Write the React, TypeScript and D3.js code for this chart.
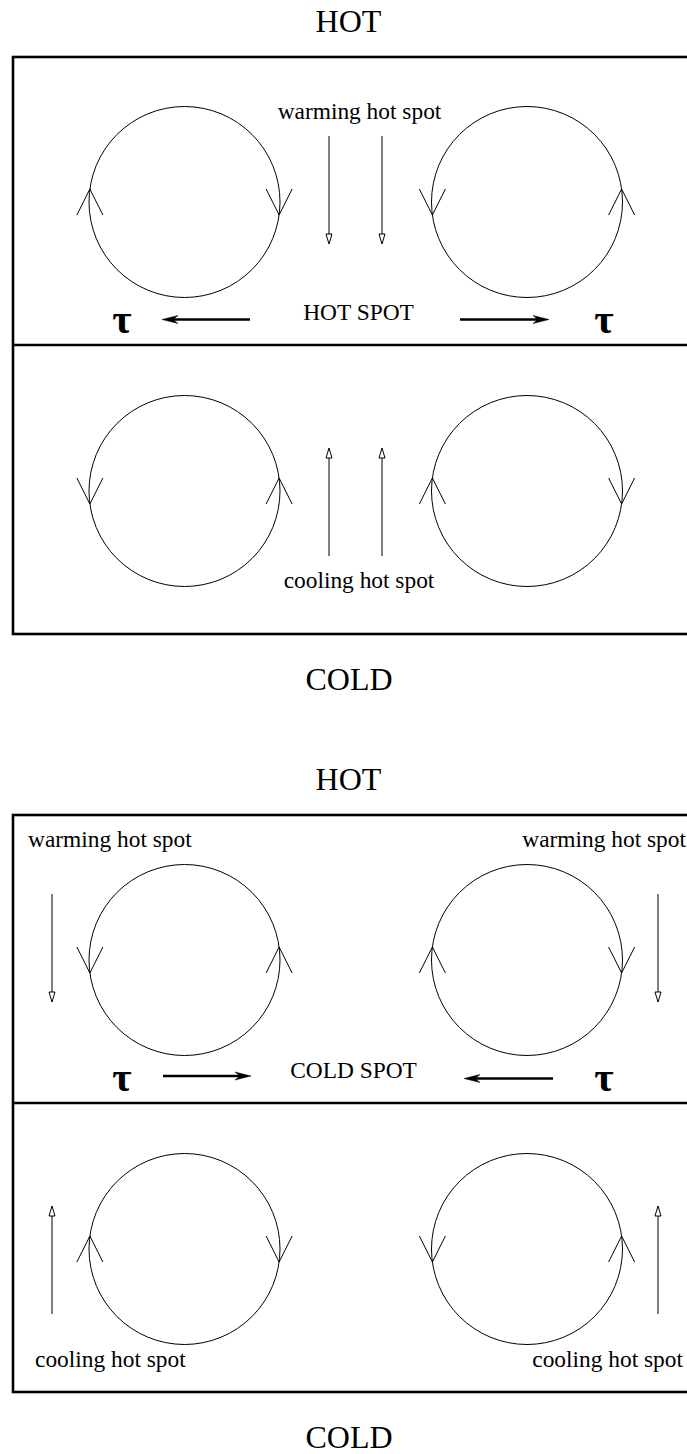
import React from "react";
import * as d3 from "d3";

// ---- diagram content ----
const TOP_TITLES = ["HOT", "HOT"];
const BOTTOM_TITLES = ["COLD", "COLD"];
const SPOT_LABELS = ["HOT SPOT", "COLD SPOT"];
const WARM_LABEL = "warming hot spot";
const COOL_LABEL = "cooling hot spot";
const TAU = "τ";
// rotation of [left, right] circle in [upper, lower] panel of each diagram
const ROTATIONS: string[][][] = [
  [["cw", "ccw"], ["ccw", "cw"]],
  [["ccw", "cw"], ["cw", "ccw"]],
];
// direction of the wind-stress arrows: outward or inward
const STRESS_DIR = ["out", "in"];
// where the vertical heat-flux arrows sit
const FLUX_PLACEMENT = ["center", "sides"];

const W = 687;
const H = 1454;
const OFFSET = 758;

const y = d3.scaleLinear().domain([0, 1]).range([0, OFFSET]);

function Chevron({ x, y: cy, up }: { x: number; y: number; up: boolean }) {
  const a = 13;
  const hw = 13;
  const apexY = up ? cy - a : cy + a;
  const armY = up ? cy + a : cy - a;
  const line = d3.line();
  return (
    <path
      d={line([[x - hw, armY], [x, apexY], [x + hw, armY]]) || ""}
      fill="none"
      stroke="#000"
      strokeWidth={1}
    />
  );
}

function Cell({ cx, cy, rot }: { cx: number; cy: number; rot: string }) {
  const r = 95.5;
  const dx = Math.sqrt(r * r - 13 * 13);
  const cw = rot === "cw";
  return (
    <g>
      <circle cx={cx} cy={cy} r={r} fill="none" stroke="#000" strokeWidth={1} />
      <Chevron x={cx - dx} y={cy} up={cw} />
      <Chevron x={cx + dx} y={cy} up={!cw} />
    </g>
  );
}

function FluxArrow({ x, y0, y1 }: { x: number; y0: number; y1: number }) {
  const dir = y1 > y0 ? 1 : -1;
  const hl = 10;
  const hw = 3;
  const line = d3.line();
  return (
    <g>
      <line x1={x} y1={y0} x2={x} y2={y1 - dir * hl} stroke="#000" strokeWidth={1} />
      <path
        d={(line([[x - hw, y1 - dir * hl], [x + hw, y1 - dir * hl], [x, y1]]) || "") + "Z"}
        fill="#fff"
        stroke="#000"
        strokeWidth={1}
      />
    </g>
  );
}

function StressArrow({ x0, x1, yy }: { x0: number; x1: number; yy: number }) {
  const dir = x1 > x0 ? 1 : -1;
  const hl = 16;
  const hw = 4;
  const line = d3.line();
  const head = line([
    [x1, yy],
    [x1 - dir * hl, yy - hw],
    [x1 - dir * (hl - 5), yy],
    [x1 - dir * hl, yy + hw],
  ]);
  return (
    <g>
      <line x1={x0} y1={yy} x2={x1 - dir * 8} y2={yy} stroke="#000" strokeWidth={2.6} />
      <path d={(head || "") + "Z"} fill="#000" stroke="#000" strokeWidth={0.5} />
    </g>
  );
}

function Diagram({ i }: { i: number }) {
  const oy = y(i);
  const top = 57 + oy;
  const mid = 345 + oy;
  const bot = 634 + oy;
  const cyU = 202 + oy;
  const cyL = 491 + oy;
  const cxs = [184.5, 527];
  const font = "'Liberation Serif', 'Times New Roman', serif";
  const stressY = 319.5 + oy;
  const out = STRESS_DIR[i] === "out";
  const flux = FLUX_PLACEMENT[i];
  const fluxXs = flux === "center" ? [329, 382] : [52, 658];
  return (
    <g>
      <text x={348.5} y={32 + oy} textAnchor="middle" fontFamily={font} fontSize={32}>
        {TOP_TITLES[i]}
      </text>
      <text x={349} y={690 + oy} textAnchor="middle" fontFamily={font} fontSize={32}>
        {BOTTOM_TITLES[i]}
      </text>
      <rect x={13} y={top} width={700} height={bot - top} fill="none" stroke="#000" strokeWidth={2.6} />
      <line x1={13} y1={mid} x2={W + 5} y2={mid} stroke="#000" strokeWidth={2.6} />

      {cxs.map((cx, k) => (
        <Cell key={"u" + k} cx={cx} cy={cyU} rot={ROTATIONS[i][0][k]} />
      ))}
      {cxs.map((cx, k) => (
        <Cell key={"l" + k} cx={cx} cy={cyL} rot={ROTATIONS[i][1][k]} />
      ))}

      {fluxXs.map((fx, k) => (
        <FluxArrow key={"fd" + k} x={fx} y0={136 + oy} y1={244 + oy} />
      ))}
      {fluxXs.map((fx, k) => (
        <FluxArrow key={"fu" + k} x={fx} y0={556 + oy} y1={448 + oy} />
      ))}

      {flux === "center" ? (
        <g fontFamily={font} fontSize={23.4}>
          <text x={359.5} y={119 + oy} textAnchor="middle">{WARM_LABEL}</text>
          <text x={359} y={588 + oy} textAnchor="middle">{COOL_LABEL}</text>
        </g>
      ) : (
        <g fontFamily={font} fontSize={23.4}>
          <text x={28} y={847 - OFFSET + oy}>{WARM_LABEL}</text>
          <text x={686} y={847 - OFFSET + oy} textAnchor="end">{WARM_LABEL}</text>
          <text x={35} y={1367 - OFFSET + oy}>{COOL_LABEL}</text>
          <text x={683} y={1367 - OFFSET + oy} textAnchor="end">{COOL_LABEL}</text>
        </g>
      )}

      <text x={i === 0 ? 358.5 : 353.5} y={319.5 + oy} textAnchor="middle" fontFamily={font} fontSize={23.4}>
        {SPOT_LABELS[i]}
      </text>

      <text x={122} y={333 + oy} textAnchor="middle" fontFamily={font} fontSize={42} fontWeight="bold">{TAU}</text>
      <text x={604} y={333 + oy} textAnchor="middle" fontFamily={font} fontSize={42} fontWeight="bold">{TAU}</text>

      {out ? (
        <g>
          <StressArrow x0={250} x1={162} yy={stressY} />
          <StressArrow x0={460} x1={549} yy={stressY} />
        </g>
      ) : (
        <g>
          <StressArrow x0={163} x1={251} yy={stressY - 1.5} />
          <StressArrow x0={553} x1={464} yy={stressY + 1} />
        </g>
      )}
    </g>
  );
}

export default function App() {
  return (
    <svg
      width={W}
      height={H}
      viewBox={`0 0 ${W} ${H}`}
      style={{ position: "absolute", left: 0, top: 0, display: "block", background: "#fff" }}
    >
      <rect x={0} y={0} width={W} height={H} fill="#fff" />
      {[0, 1].map((i) => (
        <Diagram key={i} i={i} />
      ))}
    </svg>
  );
}
